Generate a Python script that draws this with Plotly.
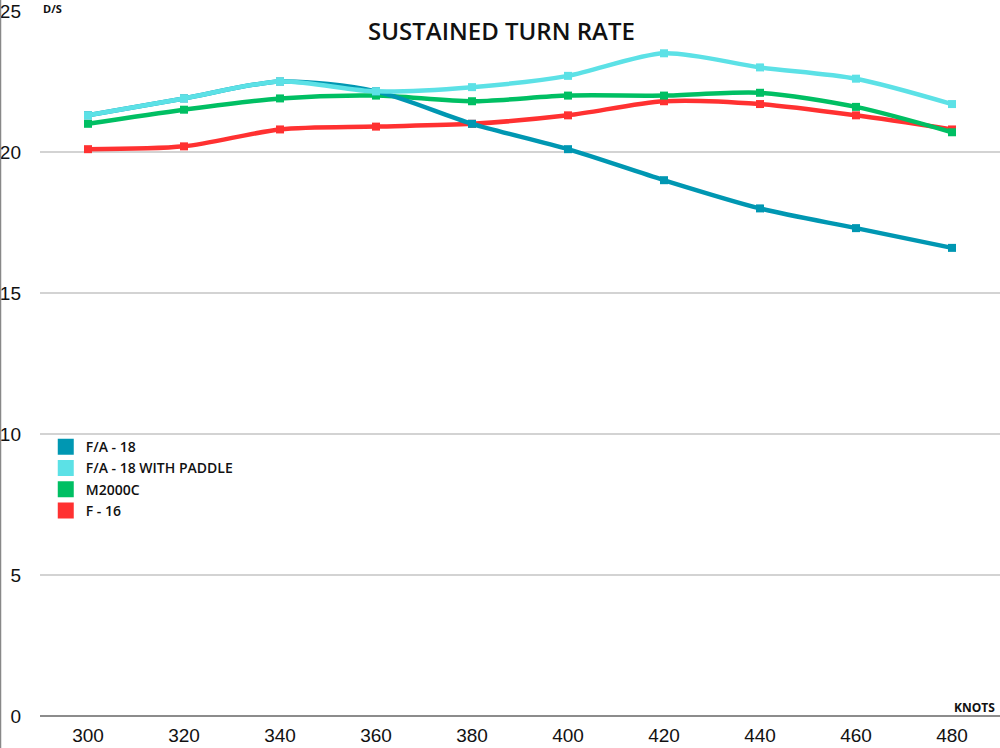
import plotly.graph_objects as go

knots = [300, 320, 340, 360, 380, 400, 420, 440, 460, 480]
fa18 = [21.3, 21.9, 22.5, 22.15, 21.0, 20.1, 19.0, 18.0, 17.3, 16.6]
fa18_paddle = [21.3, 21.9, 22.5, 22.15, 22.3, 22.7, 23.5, 23.0, 22.6, 21.7]
m2000c = [21.0, 21.5, 21.9, 22.0, 21.8, 22.0, 22.0, 22.1, 21.6, 20.7]
f16 = [20.1, 20.2, 20.8, 20.9, 21.0, 21.3, 21.8, 21.7, 21.3, 20.8]

names = ["F/A - 18", "F/A - 18 WITH PADDLE", "M2000C", "F - 16"]
series = [fa18, fa18_paddle, m2000c, f16]
colors = ["#0097B2", "#5CE1E6", "#00BF63", "#FF3131"]
yticks = [0, 5, 10, 15, 20, 25]

tickfont_family = "Liberation Sans Narrow, Arial Narrow, Liberation Sans"

fig = go.Figure()
# draw order: F-16, M2000C, F/A-18, paddle on top
for i in [3, 2, 0, 1]:
    fig.add_trace(go.Scatter(
        x=knots, y=series[i], mode="lines+markers", name=names[i],
        line=dict(color=colors[i], width=4.5, shape="spline", smoothing=0.8),
        marker=dict(symbol="square", size=8, color=colors[i]),
        showlegend=False, hoverinfo="skip"))
for i in range(4):
    fig.add_trace(go.Scatter(
        x=[None], y=[None], mode="markers", name=names[i],
        marker=dict(symbol="square", size=16, color=colors[i]),
        showlegend=True))

fig.update_layout(
    width=1000, height=748,
    margin=dict(l=40, r=0, t=11, b=32),
    paper_bgcolor="white", plot_bgcolor="white",
    showlegend=True,
    legend=dict(x=0.006, y=0.404, xanchor="left", yanchor="top",
                bgcolor="rgba(0,0,0,0)", tracegroupgap=0,
                font=dict(family="Open Sans", size=14, color="#111", weight=600)),
    xaxis=dict(range=[290, 490], tickvals=knots, showgrid=False,
               zeroline=False, showline=False, ticks="",
               ticklabelstandoff=6,
               tickfont=dict(family=tickfont_family, size=19, color="#111")),
    yaxis=dict(range=[0, 25], tickvals=yticks, showgrid=True,
               gridcolor="#D3D3D3", gridwidth=1.5,
               zeroline=True, zerolinecolor="#8C8C8C", zerolinewidth=2,
               showline=False, ticks="", ticklabelstandoff=18,
               tickfont=dict(family=tickfont_family, size=19, color="#111")),
    annotations=[
        dict(text="SUSTAINED TURN RATE", xref="paper", yref="paper",
             x=(501 - 40) / 960, y=1 - (30 - 11) / 705, xanchor="center", yanchor="middle",
             showarrow=False, font=dict(family="Open Sans", size=24, color="#111", weight=600)),
        dict(text="<b>D/S</b>", xref="paper", yref="paper",
             x=(41 - 40) / 960, y=1 - (8 - 11) / 705, xanchor="left", yanchor="middle",
             showarrow=False, font=dict(family="Open Sans", size=11, color="#111")),
        dict(text="<b>KNOTS</b>", xref="paper", yref="paper",
             x=1 - 3 / 960, y=(716 - 707) / 705, xanchor="right", yanchor="middle",
             showarrow=False, font=dict(family="Open Sans", size=12, color="#111")),
    ],
    shapes=[dict(type="line", xref="paper", yref="paper",
                 x0=-39.5 / 960, x1=-39.5 / 960, y0=-32 / 705, y1=1 + 11 / 705,
                 line=dict(color="#888", width=1.5))],
)

fig.write_html("out.html", config={"displayModeBar": False},
               post_script="document.body.style.margin='0';document.body.style.overflow='hidden';")
